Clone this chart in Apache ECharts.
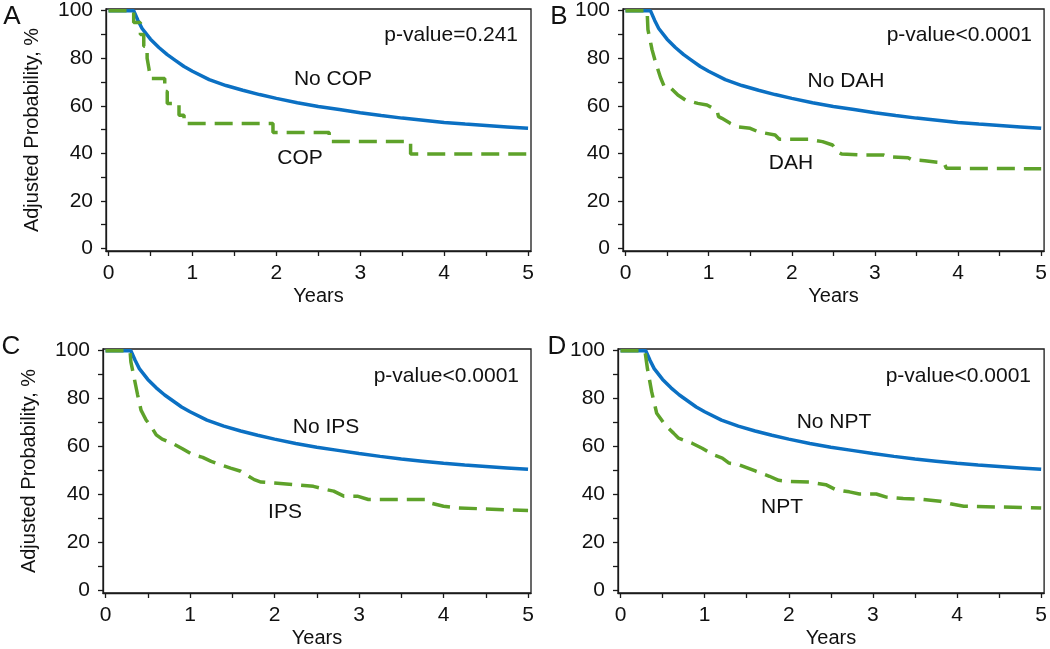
<!DOCTYPE html>
<html>
<head>
<meta charset="utf-8">
<script src="https://cdn.jsdelivr.net/npm/echarts@6/dist/echarts.min.js"></script>
<style>
html,body{margin:0;padding:0;background:#fff;}
#chart{width:1050px;height:649px;}
</style>
</head>
<body>
<div id="chart"></div>
<script>
// ---- Data (years, adjusted probability %) ----
var xTicks = [0, 0.5, 1, 1.5, 2, 2.5, 3, 3.5, 4, 4.5, 5];
var xLabels = [0, 1, 2, 3, 4, 5];
var yTicks = [0, 10, 20, 30, 40, 50, 60, 70, 80, 90, 100];
var yLabels = [0, 20, 40, 60, 80, 100];

// reference group (no condition), same shape in every panel
var noCondition = [[0,100],[0.2,100],[0.3,100],[0.35,96],[0.4,92.5],[0.5,88],[0.6,84.5],[0.7,81.5],[0.8,79],[0.9,76.5],[1.0,74.5],[1.2,71],[1.4,68.5],[1.6,66.5],[1.8,64.7],[2.0,63.1],[2.25,61.3],[2.5,59.7],[2.75,58.4],[3.0,57.1],[3.25,55.9],[3.5,54.8],[3.75,53.9],[4.0,53.0],[4.25,52.3],[4.5,51.7],[4.75,51.1],[5.0,50.5]];

// A: COP (step function)
var cop = [[0,100],[0.30,95],[0.38,90],[0.42,85],[0.46,80],[0.48,76],[0.50,71.5],[0.67,66],[0.70,61],[0.84,56],[0.90,52.5],[1.96,48.7],[2.63,45],[3.60,39.7],[5.0,39.7]];
// B: DAH
var dah = [[0,100],[0.26,100],[0.27,92],[0.32,83.5],[0.36,78.5],[0.42,72],[0.47,67.7],[0.55,67.3],[0.63,64.5],[0.72,62.4],[0.87,61],[0.98,60.3],[1.10,58],[1.12,55.4],[1.16,54.7],[1.26,52.6],[1.34,51.2],[1.5,50.5],[1.6,49],[1.8,47.7],[1.85,45.9],[2.2,45.9],[2.37,44.9],[2.49,43.5],[2.55,40.7],[2.6,39.7],[2.86,39.3],[3.1,39.3],[3.15,38.6],[3.4,38.1],[3.45,37.2],[3.6,36.9],[3.75,36.2],[3.83,36],[3.86,33.7],[5.0,33.5]];
// C: IPS
var ips = [[0,100],[0.29,100],[0.30,95.3],[0.34,88.4],[0.38,81.5],[0.42,75.2],[0.48,71.1],[0.54,68.3],[0.60,64.9],[0.67,63.1],[0.79,61.4],[0.91,59.1],[1.03,56.6],[1.15,55.5],[1.25,53.8],[1.36,52.4],[1.48,51.0],[1.60,49.7],[1.76,46.2],[1.84,45.2],[2.0,44.8],[2.25,44.1],[2.46,43.4],[2.62,42.0],[2.7,41.4],[2.82,39.3],[2.98,39.3],[3.11,37.9],[3.8,37.9],[3.84,36.5],[4.0,35.1],[4.17,34.4],[5.0,33.3]];
// D: NPT
var npt = [[0,100],[0.29,100],[0.32,92.5],[0.37,82.9],[0.43,73.9],[0.53,69],[0.63,65.6],[0.69,63.5],[0.85,61.4],[0.97,59.3],[1.10,56.6],[1.21,55.2],[1.29,53.1],[1.41,52.4],[1.61,49.7],[1.77,47.6],[1.88,45.9],[2.0,45.5],[2.24,45.2],[2.44,44.1],[2.56,42.0],[2.72,41.1],[2.84,40.2],[3.04,40.2],[3.16,38.9],[3.36,38.3],[3.6,37.9],[3.8,37.2],[3.92,36.1],[4.08,35.1],[5.0,34.4]];

var panelLetters = ['A', 'B', 'C', 'D'];
var pValues = ['p-value=0.241', 'p-value<0.0001', 'p-value<0.0001', 'p-value<0.0001'];
var refLabels = ['No COP', 'No DAH', 'No IPS', 'No NPT'];
var condLabels = ['COP', 'DAH', 'IPS', 'NPT'];
var condData = [cop, dah, ips, npt];
var condStep = [true, false, false, false];

// ---- Layout ----
var FONT = '"Liberation Sans", Arial, sans-serif';
var BLUE = '#0b70c3';
var GREEN = '#5ea22a';
var grids = [
  {left: 106, top: 9, width: 425, height: 242},
  {left: 623, top: 9, width: 423, height: 242},
  {left: 103, top: 349, width: 428, height: 247},
  {left: 618, top: 349, width: 428, height: 247}
];
var letterPos = [[12, 17], [559, 17], [11, 347], [557, 347]];
var pPos = [[518, 35], [1032, 35], [519, 376], [1031, 376]];
var refPos = [[333, 79], [846, 81], [326, 427], [834, 422]];
var condPos = [[300, 158], [791, 163], [285, 512], [782, 507]];

var option = {
  backgroundColor: '#ffffff',
  animation: false,
  grid: [], xAxis: [], yAxis: [], series: [], graphic: []
};

grids.forEach(function (g, i) {
  option.grid.push({left: g.left, top: g.top, width: g.width, height: g.height,
    show: true, borderColor: '#1a1a1a', borderWidth: 1.3, backgroundColor: 'transparent'});
  option.xAxis.push({
    type: 'value', gridIndex: i, min: -0.03, max: 5.035,
    name: 'Years', nameLocation: 'middle', nameGap: 35,
    nameTextStyle: {fontFamily: FONT, fontSize: 20, color: '#111'},
    axisLine: {onZero: false, lineStyle: {color: '#1a1a1a', width: 1.3}},
    axisTick: {show: true, length: 5, customValues: xTicks, lineStyle: {color: '#1a1a1a', width: 1.3}},
    axisLabel: {customValues: xLabels, margin: 12, fontFamily: FONT, fontSize: 21, color: '#111'},
    splitLine: {show: false}
  });
  option.yAxis.push({
    type: 'value', gridIndex: i, min: -1.1, max: 100.7,
    name: (i % 2 === 0) ? 'Adjusted Probability, %' : '',
    nameLocation: 'middle', nameGap: 64, nameRotate: 90,
    nameTextStyle: {fontFamily: FONT, fontSize: 20, color: '#111'},
    axisLine: {onZero: false, lineStyle: {color: '#1a1a1a', width: 1.3}},
    axisTick: {show: true, length: 5, customValues: yTicks, lineStyle: {color: '#1a1a1a', width: 1.3}},
    axisLabel: {customValues: yLabels, margin: 13, fontFamily: FONT, fontSize: 21, color: '#111'},
    splitLine: {show: false}
  });
  option.series.push({
    type: 'line', xAxisIndex: i, yAxisIndex: i, data: noCondition,
    showSymbol: false, symbol: 'none', z: 2,
    lineStyle: {color: BLUE, width: 3.5}
  });
  option.series.push({
    type: 'line', xAxisIndex: i, yAxisIndex: i, data: condData[i],
    step: condStep[i] ? 'end' : false,
    showSymbol: false, symbol: 'none', z: 3,
    lineStyle: {color: GREEN, width: 3.5, type: [18, 9]}
  });
  option.graphic.push({type: 'text', x: letterPos[i][0], y: letterPos[i][1],
    style: {text: panelLetters[i], font: '26px ' + FONT, fill: '#111', align: 'center', verticalAlign: 'middle'}});
  option.graphic.push({type: 'text', x: pPos[i][0], y: pPos[i][1],
    style: {text: pValues[i], font: '21px ' + FONT, fill: '#111', align: 'right', verticalAlign: 'middle'}});
  option.graphic.push({type: 'text', x: refPos[i][0], y: refPos[i][1],
    style: {text: refLabels[i], font: '21px ' + FONT, fill: '#111', align: 'center', verticalAlign: 'middle'}});
  option.graphic.push({type: 'text', x: condPos[i][0], y: condPos[i][1],
    style: {text: condLabels[i], font: '21px ' + FONT, fill: '#111', align: 'center', verticalAlign: 'middle'}});
});

var chart = echarts.init(document.getElementById('chart'), null, {renderer: 'canvas'});
chart.setOption(option);
</script>
</body>
</html>
